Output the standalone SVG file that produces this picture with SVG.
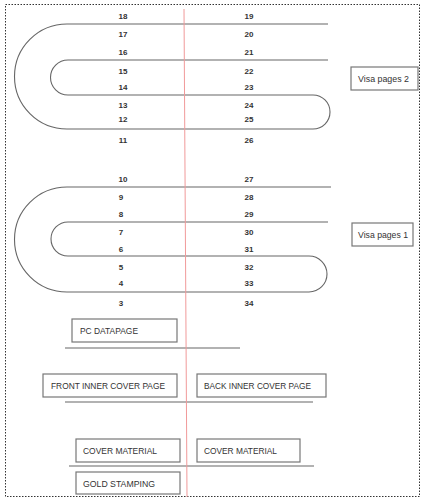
<svg xmlns="http://www.w3.org/2000/svg" width="421" height="500" viewBox="0 0 421 500">
<style>
.num{font-family:"Liberation Sans",Arial,sans-serif;font-size:8px;font-weight:bold;fill:#333;text-anchor:middle}
.lbl{font-family:"Liberation Sans",Arial,sans-serif;font-size:9.5px;fill:#333}
.box{fill:#fff;stroke:#777;stroke-width:1.2}
.ln{fill:none;stroke:#666;stroke-width:1.1}
</style>
<rect x="5.5" y="4.5" width="414" height="492" fill="#fff" stroke="#333" stroke-width="1" stroke-dasharray="1.5,1.5"/>
<g id="connectors">
<path class="ln" d="M 328 24 H 67 A 52.5 52.5 0 0 0 67 129 H 313 A 17 17 0 0 0 313 95 H 68 A 17.5 17.5 0 0 1 68 60 H 328"/>
<path class="ln" d="M 331 187 H 67 A 52.5 52.5 0 0 0 67 292 H 309 A 18 18 0 0 0 309 256 H 68 A 17 17 0 0 1 68 222 H 328"/>
<path class="ln" d="M 65 348 H 240"/>
<path class="ln" d="M 65 402 H 313"/>
<path class="ln" d="M 69 466 H 314"/>
<path d="M 184 9 L 187 497" fill="none" stroke="#f19a9a" stroke-width="1"/>
</g>
<g id="pages-left">
<text class="num" x="123" y="19">18</text>
<text class="num" x="123" y="37">17</text>
<text class="num" x="123" y="55">16</text>
<text class="num" x="123" y="74">15</text>
<text class="num" x="123" y="90">14</text>
<text class="num" x="123" y="108">13</text>
<text class="num" x="123" y="122">12</text>
<text class="num" x="123" y="143">11</text>
<text class="num" x="123" y="182">10</text>
<text class="num" x="121" y="200">9</text>
<text class="num" x="121" y="217">8</text>
<text class="num" x="121" y="235">7</text>
<text class="num" x="121" y="252">6</text>
<text class="num" x="121" y="270">5</text>
<text class="num" x="121" y="286">4</text>
<text class="num" x="121" y="306">3</text>
</g>
<g id="pages-right">
<text class="num" x="249" y="19">19</text>
<text class="num" x="249" y="37">20</text>
<text class="num" x="249" y="55">21</text>
<text class="num" x="249" y="74">22</text>
<text class="num" x="249" y="90">23</text>
<text class="num" x="249" y="108">24</text>
<text class="num" x="249" y="122">25</text>
<text class="num" x="249" y="143">26</text>
<text class="num" x="249" y="182">27</text>
<text class="num" x="249" y="200">28</text>
<text class="num" x="249" y="217">29</text>
<text class="num" x="249" y="235">30</text>
<text class="num" x="249" y="252">31</text>
<text class="num" x="249" y="270">32</text>
<text class="num" x="249" y="286">33</text>
<text class="num" x="249" y="306">34</text>
</g>
<g id="visa2">
<rect class="box" x="351" y="67" width="67" height="23"/>
<text class="lbl" x="358" y="82" textLength="51" lengthAdjust="spacingAndGlyphs">Visa pages 2</text>
</g>
<g id="visa1">
<rect class="box" x="352" y="223" width="61" height="23"/>
<text class="lbl" x="358" y="238" textLength="50" lengthAdjust="spacingAndGlyphs">Visa pages 1</text>
</g>
<g id="pc-datapage">
<rect class="box" x="72" y="319" width="105" height="23"/>
<text class="lbl" x="80" y="334" textLength="58" lengthAdjust="spacingAndGlyphs">PC DATAPAGE</text>
</g>
<g id="front-inner">
<rect class="box" x="43" y="374" width="134" height="23"/>
<text class="lbl" x="51" y="389" textLength="114" lengthAdjust="spacingAndGlyphs">FRONT INNER COVER PAGE</text>
</g>
<g id="back-inner">
<rect class="box" x="197" y="374" width="129" height="23"/>
<text class="lbl" x="204" y="389" textLength="107" lengthAdjust="spacingAndGlyphs">BACK INNER COVER PAGE</text>
</g>
<g id="cover-left">
<rect class="box" x="76" y="439" width="104" height="23"/>
<text class="lbl" x="83" y="454" textLength="74" lengthAdjust="spacingAndGlyphs">COVER MATERIAL</text>
</g>
<g id="cover-right">
<rect class="box" x="197" y="439" width="103" height="23"/>
<text class="lbl" x="204" y="454" textLength="73" lengthAdjust="spacingAndGlyphs">COVER MATERIAL</text>
</g>
<g id="gold-stamping">
<rect class="box" x="76" y="472" width="104" height="22"/>
<text class="lbl" x="83" y="487" textLength="72" lengthAdjust="spacingAndGlyphs">GOLD STAMPING</text>
</g>
</svg>
